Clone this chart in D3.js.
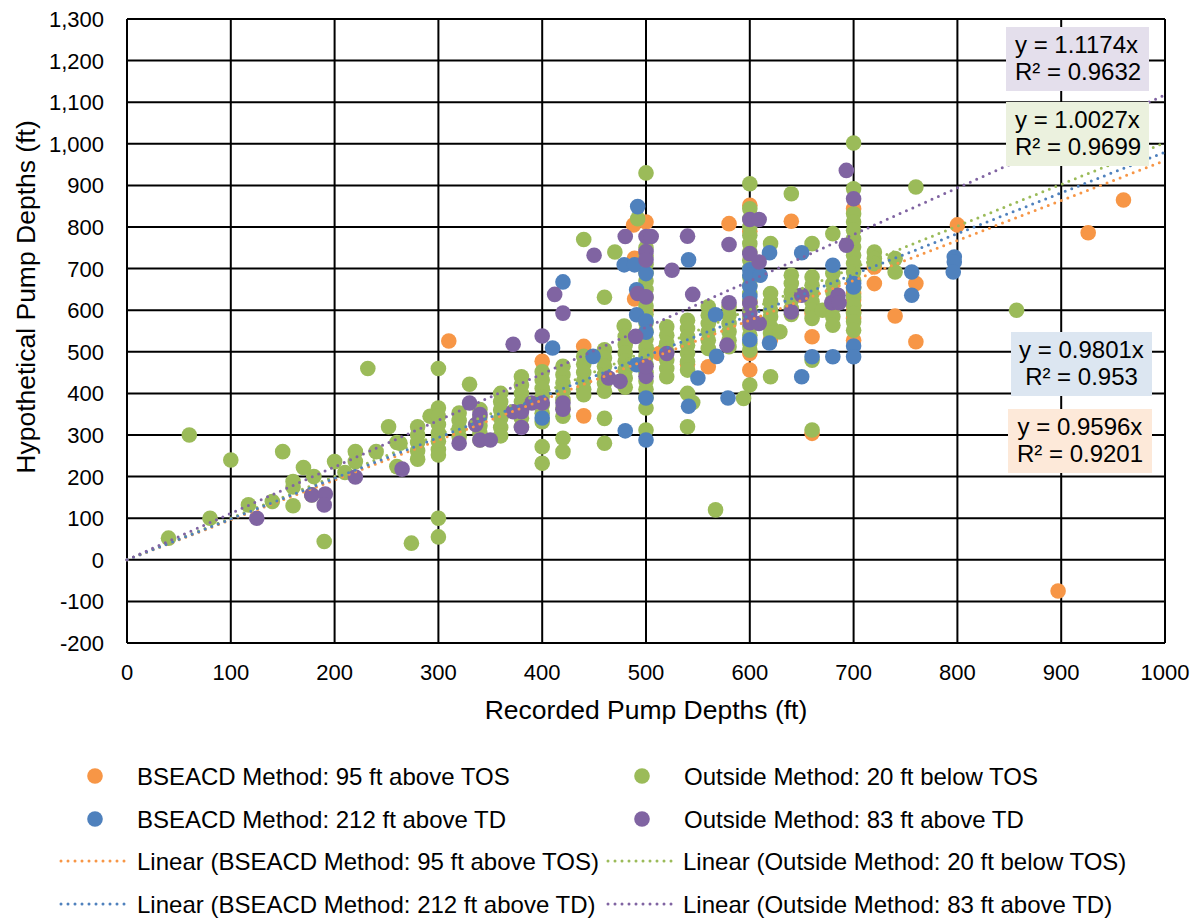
<!DOCTYPE html>
<html>
<head>
<meta charset="utf-8">
<script src="https://cdn.jsdelivr.net/npm/d3@7"></script>
<style>
  body { margin: 0; background: #fff; }
  svg text { font-family: "Liberation Sans", Arial, sans-serif; fill: #000; }
</style>
</head>
<body>
<svg id="chart" width="1200" height="920"></svg>
<script>
// series
var seriesNames = [
    "BSEACD Method: 95 ft above TOS",
    "Outside Method: 20 ft below TOS",
    "BSEACD Method: 212 ft above TD",
    "Outside Method: 83 ft above TD"
]
var seriesColors = ["#F79646", "#9BBB59", "#4F81BD", "#8064A2"]
var slopes = [0.9596, 1.0027, 0.9801, 1.1174]
var rSquared = ["0.9201", "0.9699", "0.953", "0.9632"]

var xTicks = [0, 100, 200, 300, 400, 500, 600, 700, 800, 900, 1000]
var yTicks = [-200, -100, 0, 100, 200, 300, 400, 500, 600, 700, 800, 900, 1000, 1100, 1200, 1300]

// [recorded, hypothetical]
var orangePts = [
    [310,526],[400,477],[440,513],[440,346],[488,805],[500,812],[489,725],[489,627],[500,600],
    [560,464],[513,496],[580,808],[600,852],[600,790],[600,456],[600,496],[620,530],[640,814],
    [660,536],[660,592],[660,304],[700,844],[700,655],[700,640],[700,625],[700,610],[700,595],
    [700,580],[700,528],[720,704],[720,664],[740,586],[760,664],[760,524],[800,805],[926,786],
    [960,865],[897,-75],[600,620],[540,470]
]
var greenPts = [
    [40,52],[60,300],[80,100],[100,240],[117,132],[140,140],[150,260],[160,130],[160,188],[160,175],
    [170,222],[180,200],[178,156],[190,44],[200,236],[210,210],[220,260],[220,236],[232,460],[240,260],
    [252,320],[260,282],[260,224],[274,40],[263,280],
    [280,320],[280,300],[280,282],[280,262],[280,242],[292,345],
    [300,460],[300,365],[300,345],[300,325],[300,305],[300,285],[300,265],[300,252],[300,100],[300,55],
    [320,353],[320,335],[320,316],[320,296],[330,422],
    [340,361],[340,342],[340,322],[340,305],[340,288],
    [360,400],[360,380],[360,360],[360,340],[360,318],[360,298],
    [380,440],[380,420],[380,400],[380,380],[380,360],[380,340],[380,320],
    [400,452],[400,432],[400,412],[400,392],[400,372],[400,352],[400,332],[400,272],[400,232],
    [420,465],[420,445],[420,425],[420,405],[420,385],[420,365],[420,345],[420,292],[420,260],
    [440,770],[440,489],[440,470],[440,450],[440,430],[440,410],[440,397],
    [460,631],[460,505],[460,485],[460,465],[460,445],[460,425],[460,405],[460,340],[460,280],
    [470,740],[479,562],[480,537],[480,517],[480,497],[480,477],[480,457],[480,437],[480,415],
    [492,820],[500,930],[500,750],[500,730],[500,710],[500,690],[500,670],[500,650],[500,630],
    [500,610],[500,590],[500,570],[500,550],[500,530],[500,510],[500,490],[500,470],[500,450],
    [500,430],[500,410],[500,390],[500,365],[500,312],
    [520,560],[520,540],[520,520],[520,500],[520,480],[520,460],[520,440],
    [540,576],[540,556],[540,536],[540,516],[540,496],[540,476],[540,456],[540,400],[540,320],[545,378],
    [560,608],[560,588],[560,568],[560,548],[560,528],[560,508],[567,120],
    [580,608],[580,588],[580,568],[580,548],[580,528],[580,512],[594,388],
    [600,904],[600,844],[600,820],[600,800],[600,780],[600,760],[600,740],[600,720],[600,700],
    [600,680],[600,660],[600,640],[600,620],[600,600],[600,580],[600,560],[600,540],[600,520],
    [600,504],[600,420],
    [620,760],[620,640],[620,620],[620,600],[620,584],[620,560],[620,545],[620,440],[629,548],
    [640,880],[640,684],[640,664],[640,644],[640,624],[640,604],[640,590],
    [660,760],[660,680],[660,660],[660,640],[660,620],[660,600],[660,580],[660,480],[660,312],[670,600],
    [680,784],[680,688],[680,664],[680,644],[680,624],[680,604],[680,584],[680,564],
    [700,1002],[700,892],[700,832],[700,812],[700,792],[700,772],[700,752],[700,732],[700,712],
    [700,692],[700,672],[700,652],[700,632],[700,612],[700,592],[700,572],[700,552],
    [720,740],[720,724],[720,712],[740,724],[740,692],[760,896],[857,600]
]
var bluePts = [
    [400,341],[410,509],[420,668],[449,489],[480,310],[479,709],[489,709],[492,849],[500,688],
    [491,649],[491,589],[500,574],[500,547],[491,469],[500,389],[500,288],
    [541,721],[541,369],[550,437],[567,589],[568,489],[579,389],
    [600,697],[600,684],[600,657],[600,633],[600,529],[610,684],[619,738],[619,521],
    [650,738],[650,440],[660,488],[680,708],[680,488],[700,664],[700,656],[700,514],[700,488],
    [756,692],[756,636],[797,728],[797,716],[796,692]
]
var purplePts = [
    [125,100],[178,156],[191,158],[190,132],[220,199],[265,218],[320,280],[340,288],[350,288],
    [336,325],[340,349],[330,377],[372,356],[380,356],[380,318],[390,377],[400,377],[420,377],
    [420,362],[464,437],[475,429],[500,441],[500,465],[372,518],[400,538],[412,638],[420,593],
    [450,732],[480,777],[500,777],[505,777],[500,741],[500,721],[492,640],[500,632],[490,537],
    [525,696],[540,778],[545,638],[520,496],[578,516],[580,758],[580,618],[600,818],[609,818],
    [600,736],[609,716],[600,616],[600,592],[600,570],[609,568],[640,596],[650,636],[679,618],
    [685,636],[686,618],[693,756],[693,936],[700,868]
]
var seriesPts = [orangePts, greenPts, bluePts, purplePts]

var svg = d3.select("#chart")
const plot = { left: 127, right: 1165, top: 19, bottom: 643 }

var x = d3.scaleLinear().domain([0, 1000]).range([plot.left, plot.right])
var y = d3.scaleLinear().domain([-200, 1300]).range([plot.bottom, plot.top])

// excel style numbers: thousands comma, plain hyphen for minus
var fmt = d3.formatLocale({ decimal: ".", thousands: ",", grouping: [3], currency: ["", ""], minus: "-" }).format(",")

// grid
svg.append("g").selectAll("line").data(yTicks).join("line")
    .attr("x1", plot.left).attr("x2", plot.right)
    .attr("y1", d => y(d)).attr("y2", d => y(d))
    .attr("stroke", "#000").attr("stroke-width", 2)
svg.append("g").selectAll("line").data(xTicks).join("line")
    .attr("y1", plot.top).attr("y2", plot.bottom)
    .attr("x1", d => x(d)).attr("x2", d => x(d))
    .attr("stroke", "#000").attr("stroke-width", 2)

// tick labels
svg.append("g").selectAll("text").data(yTicks).join("text")
    .attr("x", 104).attr("y", d => y(d) + 8)
    .attr("text-anchor", "end").style("font-size", "22px")
    .text(d => fmt(d))
svg.append("g").selectAll("text").data(xTicks).join("text")
    .attr("x", d => x(d)).attr("y", 680)
    .attr("text-anchor", "middle").style("font-size", "22px")
    .text(d => d)

// axis titles
svg.append("text").attr("x", 646).attr("y", 719)
    .attr("text-anchor", "middle").style("font-size", "26.5px")
    .text("Recorded Pump Depths (ft)")
svg.append("text").attr("transform", "translate(35,297) rotate(-90)")
    .attr("text-anchor", "middle").style("font-size", "26.5px")
    .text("Hypothetical Pump Depths (ft)")

// markers
seriesPts.forEach(function(pts, i){
    svg.append("g").selectAll("circle").data(pts).join("circle")
        .attr("cx", d => x(d[0])).attr("cy", d => y(d[1]))
        .attr("r", 7.8)
        .attr("fill", seriesColors[i])
})

// trendlines
var trend = d3.line().x(d => x(d[0])).y(d => y(d[1]))
slopes.forEach(function(m, i){
    svg.append("path")
        .attr("d", trend([[0, 0], [1000, 1000 * m]]))
        .attr("fill", "none")
        .attr("stroke", seriesColors[i])
        .attr("stroke-width", 3)
        .attr("stroke-linecap", "round")
        .attr("stroke-dasharray", "0 7")
})

// trendline labels
const labelBoxes = [
    { s: 3, x: 1006, y: 27, w: 143, h: 64, fill: "#E4DFEC", anchor: "start" },
    { s: 1, x: 1006, y: 102, w: 143, h: 64, fill: "#EBF1DE", anchor: "start" },
    { s: 2, x: 1011, y: 332, w: 141, h: 64, fill: "#DCE6F1", anchor: "middle" },
    { s: 0, x: 1008, y: 409, w: 144, h: 64, fill: "#FDE9D9", anchor: "middle" }
]
labelBoxes.forEach(function(b){
    var g = svg.append("g")
    g.append("rect").attr("x", b.x).attr("y", b.y).attr("width", b.w).attr("height", b.h)
        .attr("fill", b.fill)
    var tx = b.anchor == "start" ? b.x + 9 : b.x + b.w / 2
    g.append("text").attr("x", tx).attr("y", b.y + 26).attr("text-anchor", b.anchor)
        .style("font-size", "24px").text("y = " + slopes[b.s] + "x")
    g.append("text").attr("x", tx).attr("y", b.y + 53).attr("text-anchor", b.anchor)
        .style("font-size", "24px").text("R\u00B2 = " + rSquared[b.s])
})

// legend
const legendItems = [
    { s: 0, type: "dot", mx: 95, tx: 137, cy: 776 },
    { s: 1, type: "dot", mx: 642, tx: 684, cy: 776 },
    { s: 2, type: "dot", mx: 95, tx: 137, cy: 819 },
    { s: 3, type: "dot", mx: 642, tx: 684, cy: 819 },
    { s: 0, type: "line", lx: [61, 129], tx: 137, cy: 861 },
    { s: 1, type: "line", lx: [608, 674], tx: 683, cy: 861 },
    { s: 2, type: "line", lx: [61, 129], tx: 137, cy: 904 },
    { s: 3, type: "line", lx: [608, 674], tx: 683, cy: 904 }
]
legendItems.forEach(function(it){
    if (it.type == "dot"){
        svg.append("circle").attr("cx", it.mx).attr("cy", it.cy).attr("r", 7.8)
            .attr("fill", seriesColors[it.s])
    } else {
        svg.append("line").attr("x1", it.lx[0]).attr("x2", it.lx[1])
            .attr("y1", it.cy).attr("y2", it.cy)
            .attr("stroke", seriesColors[it.s]).attr("stroke-width", 3)
            .attr("stroke-linecap", "round").attr("stroke-dasharray", "0 7")
    }
    var label = it.type == "dot" ? seriesNames[it.s] : "Linear (" + seriesNames[it.s] + ")"
    svg.append("text").attr("x", it.tx).attr("y", it.cy + 9)
        .style("font-size", "24px").text(label)
})
</script>
</body>
</html>
